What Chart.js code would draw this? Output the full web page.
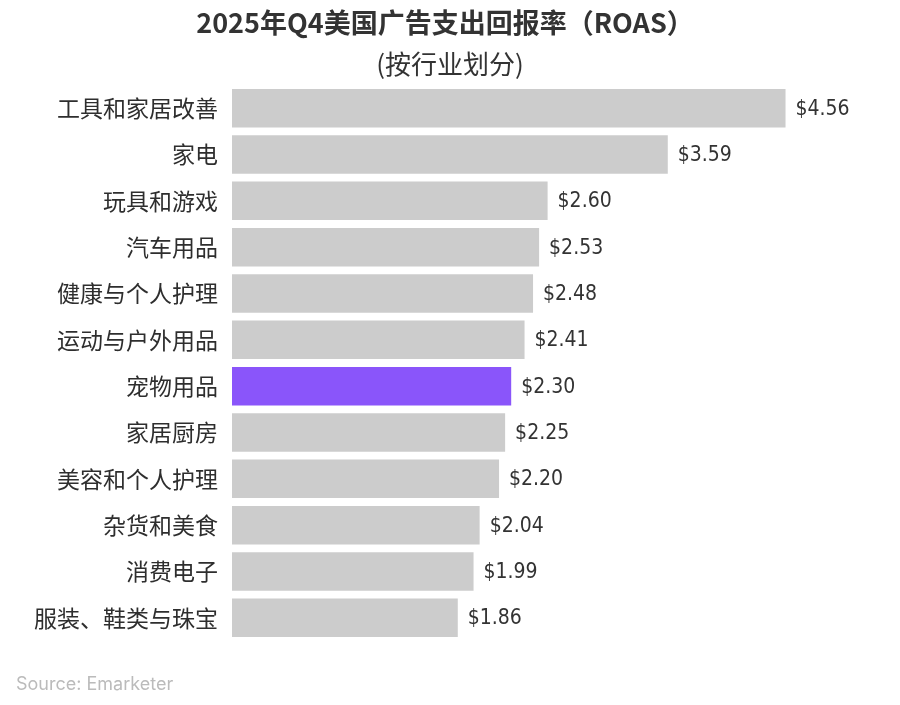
<!DOCTYPE html>
<html>
<head>
<meta charset="utf-8">
<script src="https://cdn.jsdelivr.net/npm/chart.js@4.4.1/dist/chart.umd.min.js"></script>
<style>
html,body{margin:0;padding:0;background:#fff;}
#wrap{width:900px;height:705px;position:relative;}
</style>
</head>
<body>
<div id="wrap"><canvas id="c" width="900" height="705"></canvas></div>
<script>
const categories = ["工具和家居改善","家电","玩具和游戏","汽车用品","健康与个人护理","运动与户外用品","宠物用品","家居厨房","美容和个人护理","杂货和美食","消费电子","服装、鞋类与珠宝"];
const roasValues = [4.56,3.59,2.60,2.53,2.48,2.41,2.30,2.25,2.20,2.04,1.99,1.86];
const highlightCategory = "宠物用品";
const titleText = "2025年Q4美国广告支出回报率（ROAS）";
const subtitleText = "(按行业划分)";
const sourceText = "Source: Emarketer";

const FONT = "'Noto Sans CJK SC','Noto Sans',sans-serif";
const colors = categories.map(c => c === highlightCategory ? "#8A55FA" : "#CCCCCC");

const textPlugin = {
  id: 'texts',
  afterDraw(chart) {
    const ctx = chart.ctx;
    ctx.save();
    ctx.textAlign = 'center';
    ctx.textBaseline = 'middle';
    ctx.fillStyle = '#333333';
    ctx.font = "bold 27px " + FONT;
    ctx.fillText(titleText, 445, 23);
    ctx.font = "26px " + FONT;
    ctx.fillText(subtitleText, 450, 64);
    ctx.textAlign = 'left';
    ctx.fillStyle = '#BBBBBB';
    ctx.font = "18px 'Inter','Noto Sans',sans-serif";
    ctx.fillText(sourceText, 16, 685);
    const meta = chart.getDatasetMeta(0);
    ctx.fillStyle = '#333333';
    ctx.font = "21px 'DejaVu Sans Condensed','DejaVu Sans',sans-serif";
    meta.data.forEach((bar, i) => {
      ctx.fillText('$' + roasValues[i].toFixed(2), bar.x + 10, bar.y + 1);
    });
    ctx.restore();
  }
};

new Chart(document.getElementById('c'), {
  type: 'bar',
  data: {
    labels: categories,
    datasets: [{
      data: roasValues,
      backgroundColor: colors,
      borderWidth: 0,
      barPercentage: 0.83,
      categoryPercentage: 1.0
    }]
  },
  options: {
    indexAxis: 'y',
    responsive: false,
    animation: false,
    layout: { padding: { top: 85, bottom: 64, left: 0, right: 55 } },
    plugins: { legend: { display: false }, tooltip: { enabled: false }, title: { display: false } },
    scales: {
      x: { display: false, min: 0, max: 5.05 },
      y: {
        grid: { display: false, drawBorder: false },
        border: { display: false },
        ticks: { color: '#2E2E2E', font: { family: FONT, size: 23 }, padding: 6 },
        afterFit(scale) { scale.width = 232; }
      }
    }
  },
  plugins: [textPlugin]
});
</script>
</body>
</html>
